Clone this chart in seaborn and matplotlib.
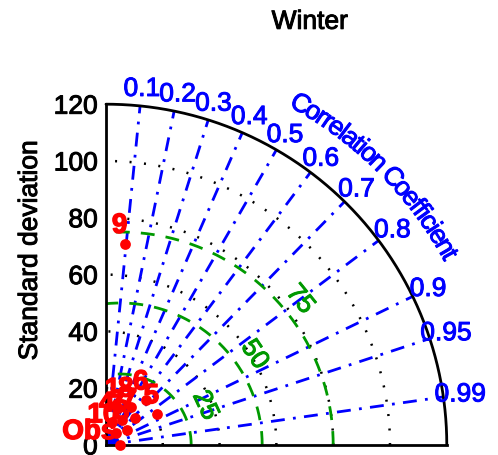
import numpy as np
import pandas as pd
import matplotlib
matplotlib.use("Agg")
import matplotlib.pyplot as plt
import matplotlib.patheffects as pe
import seaborn as sns

# ---- data ----
model_labels = ["1", "2", "3", "4", "5", "6", "7", "8", "9", "10"]
model_std = [13.7, 10.5, 9.2, 8.4, 21.0, 21.2, 14.0, 16.0, 71.2, 5.5]
model_corr = [0.31, 0.54, 0.82, 0.26, 0.855, 0.67, 0.735, 0.56, 0.095, 0.65]
obs_std = 5.0
obs_label = "Obs"

corr_ticks = [0.1, 0.2, 0.3, 0.4, 0.5, 0.6, 0.7, 0.8, 0.9, 0.95, 0.99]
std_arcs = [20, 40, 60, 80, 100]
rms_arcs = [25, 50, 75]
rms_label_pos = [(33.0, 25.0), (57.0, 34.0), (81.5, 39.0)]  # (radius, angle deg)
y_ticks = [0, 20, 40, 60, 80, 100, 120]
max_std = 120
title = "Winter"
ylabel = "Standard deviation"
corr_title = "Correlation Coefficient"

sns.set_style("white")
plt.rcParams["font.family"] = ["Liberation Sans", "DejaVu Sans"]
plt.rcParams["text.color"] = "black"
plt.rcParams["axes.labelcolor"] = "black"
plt.rcParams["xtick.color"] = "black"
plt.rcParams["ytick.color"] = "black"

BLUE = "#0000ff"
GREEN = "#009900"
RED = "#ff0000"


def thick(color, w=0.7):
    return [pe.withStroke(linewidth=w, foreground=color)]


fig = plt.figure(figsize=(4.98, 4.55), dpi=100)
ax = fig.add_axes([0.2125, 0.022, 0.685, 0.749])
ax.set_xlim(0, max_std)
ax.set_ylim(0, max_std)
ax.set_aspect("equal", adjustable="box")

# std dotted arcs
th = np.linspace(0, np.pi / 2, 300)
for r in std_arcs:
    ax.plot(r * np.cos(th), r * np.sin(th), color="black", lw=1.8,
            linestyle=(0, (0.8, 5)), zorder=1)

# outer arc
ax.plot(max_std * np.cos(th), max_std * np.sin(th), color="black", lw=2.0,
        zorder=3, clip_on=False)

# correlation lines and labels
for c in corr_ticks:
    a = np.arccos(c)
    ax.plot([0, max_std * np.cos(a)], [0, max_std * np.sin(a)], color=BLUE,
            lw=2.0, linestyle=(0, (5, 3, 1, 3)), zorder=2)
    ax.text(126 * np.cos(a), 126 * np.sin(a), f"{c:g}", color=BLUE,
            fontsize=19, ha="center", va="center", clip_on=False,
            path_effects=thick(BLUE))

# RMS arcs (centered on obs)
tt = np.linspace(0, np.pi, 600)
for r in rms_arcs:
    x = obs_std + r * np.cos(tt)
    y = r * np.sin(tt)
    mask = (x >= 0) & (np.hypot(x, y) <= max_std)
    ax.plot(x[mask], y[mask], color=GREEN, lw=2.0, linestyle=(0, (5, 4)),
            zorder=2)
for r, (rr, ang) in zip(rms_arcs, rms_label_pos):
    a = np.radians(ang)
    ax.text(obs_std + rr * np.cos(a), rr * np.sin(a), str(r), color=GREEN,
            fontsize=19, rotation=ang - 90, rotation_mode="anchor",
            ha="center", va="center", path_effects=thick(GREEN))

# curved "Correlation Coefficient"
widths = {"C": .722, "o": .556, "r": .333, "e": .556, "l": .222, "a": .556,
          "t": .278, "i": .222, "n": .556, " ": .278, "f": .278, "c": .5}
ws = np.array([widths.get(ch, .5) for ch in corr_title])
cum = np.concatenate([[0], np.cumsum(ws)])
start, end = 61.5, 28.5
R = 138
for i, ch in enumerate(corr_title):
    frac = (cum[i] + ws[i] / 2) / cum[-1]
    ang = start + (end - start) * frac
    a = np.radians(ang)
    ax.text(R * np.cos(a), R * np.sin(a), ch, color=BLUE, fontsize=19,
            rotation=ang - 90, rotation_mode="anchor", ha="center",
            va="center", clip_on=False, path_effects=thick(BLUE))

# points
df = pd.DataFrame({
    "label": model_labels,
    "x": np.array(model_std) * np.array(model_corr),
    "y": np.array(model_std) * np.sin(np.arccos(model_corr)),
})
sns.scatterplot(data=df, x="x", y="y", color=RED, s=60, edgecolor=RED,
                linewidth=0, ax=ax, zorder=5, clip_on=False)
for _, row in df.iterrows():
    ax.annotate(row["label"], (row["x"], row["y"]), xytext=(1.5, 3.5),
                textcoords="offset points", ha="right", va="bottom",
                color=RED, fontsize=20, fontweight="bold", zorder=6,
                annotation_clip=False, path_effects=thick(RED, 1.0))
ax.scatter([obs_std], [0], color=RED, s=60, linewidth=0, zorder=5,
           clip_on=False)
ax.annotate(obs_label, (obs_std, 0), xytext=(-3, 0), textcoords="offset points",
            ha="right", va="bottom", color=RED, fontsize=20, fontweight="bold",
            zorder=6, annotation_clip=False, path_effects=thick(RED, 1.0))

# axes styling
for s in ["top", "right"]:
    ax.spines[s].set_visible(False)
for s in ["left", "bottom"]:
    ax.spines[s].set_color("black")
    ax.spines[s].set_linewidth(2.0)
ax.set_yticks(y_ticks)
ax.set_yticklabels([str(v) for v in y_ticks], fontsize=19)
for t in ax.get_yticklabels():
    t.set_path_effects(thick("black"))
ax.set_xticks(y_ticks)
ax.set_xticklabels([])
ax.tick_params(axis="y", direction="in", length=4, width=1, pad=6)
ax.tick_params(axis="x", direction="out", length=3, width=1)
ax.set_xlabel("")
ax.set_ylabel("")
fig.text(0.06, 0.45, ylabel, rotation=90, fontsize=19, ha="center",
         va="center", path_effects=thick("black"))
fig.text(0.622, 0.952, title, fontsize=19, ha="center", va="center",
         path_effects=thick("black"))

fig.savefig("out.png", dpi=100)
